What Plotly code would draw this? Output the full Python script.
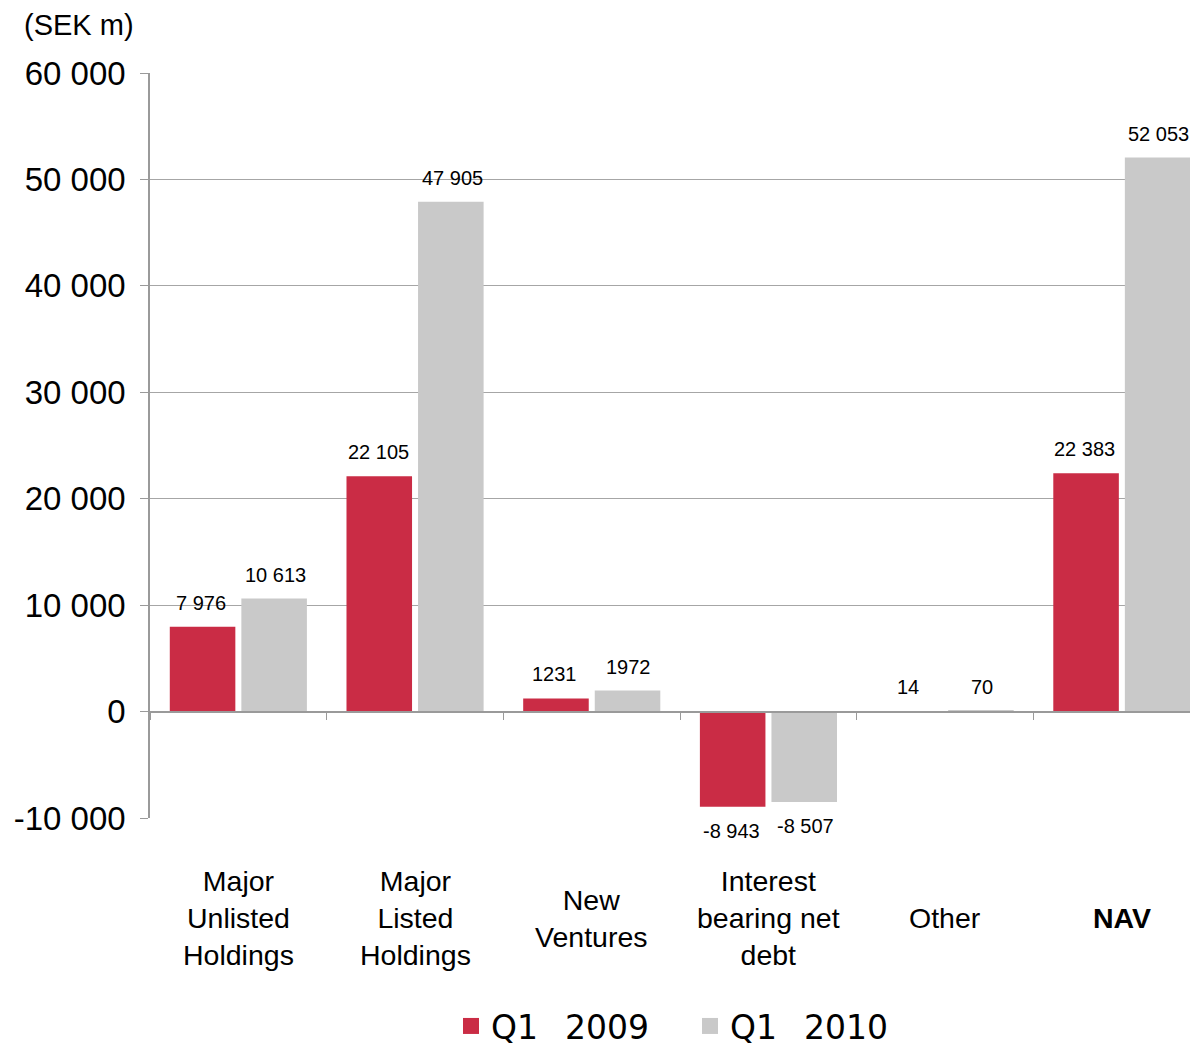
import plotly.graph_objects as go

categories = ["Major<br>Unlisted<br>Holdings", "Major<br>Listed<br>Holdings", "New<br>Ventures",
              "Interest<br>bearing net<br>debt", "Other", "<b>NAV</b>"]
q1_2009 = [7976, 22105, 1231, -8943, 14, 22383]
q1_2010 = [10613, 47905, 1972, -8507, 70, 52053]
labels_2009 = ["7 976", "22 105", "1231", "-8 943", "14", "22 383"]
labels_2010 = ["10 613", "47 905", "1972", "-8 507", "70", "52 053"]
series_names = ["Q1\u2002 2009", "Q1\u2002 2010"]
y_ticks = [-10000, 0, 10000, 20000, 30000, 40000, 50000, 60000]
y_ticktext = ["-10 000", "0", "10 000", "20 000", "30 000", "40 000", "50 000", "60 000"]

RED = "#CA2C45"
GRAY = "#C9C9C9"
FONT = "Liberation Sans, Arial, sans-serif"

# page has an 8px body margin, so the figure is drawn 8px right/down
W, H = 1190, 1041
L, T, B = 142, 65, 231
PW, PH = W - L, H - T - B

x_idx = list(range(len(categories)))

fig = go.Figure()
fig.add_trace(go.Bar(x=x_idx, y=q1_2009, name=series_names[0], showlegend=False,
                     marker=dict(color=RED, line=dict(width=0))))
fig.add_trace(go.Bar(x=x_idx, y=q1_2010, name=series_names[1], showlegend=False,
                     marker=dict(color=GRAY, line=dict(width=0))))
# legend entries with larger square swatches
for nm, col in zip(series_names, [RED, GRAY]):
    fig.add_trace(go.Scatter(x=[None], y=[None], mode="markers", name=nm,
                             marker=dict(symbol="square", size=20, color=col)))

ann = []
for vals, labs, shift in ((q1_2009, labels_2009, -37), (q1_2010, labels_2010, 37)):
    for i, (v, t) in enumerate(zip(vals, labs)):
        pos = v >= 0
        ann.append(dict(x=i, y=v, xref="x", yref="y", text=t, showarrow=False,
                        xshift=shift, yshift=11 if pos else -11,
                        yanchor="bottom" if pos else "top",
                        font=dict(family=FONT, size=20, color="#000")))
for i, c in enumerate(categories):
    ann.append(dict(x=i, y=-100 / PH, xref="x", yref="paper", text=c, showarrow=False,
                    yanchor="middle", align="center",
                    font=dict(family=FONT, size=28.5, color="#000")))
ann.append(dict(xref="paper", yref="paper", x=(22 - 150) / PW, y=1 + 48 / PH,
                text="(SEK m)", showarrow=False, xanchor="left", yanchor="middle",
                font=dict(family=FONT, size=29, color="#000")))

fig.update_layout(
    annotations=ann,
    width=W, height=H,
    margin=dict(l=L, r=0, t=T, b=B),
    paper_bgcolor="white", plot_bgcolor="white",
    barmode="group", bargap=0.19, bargroupgap=0.084,
    showlegend=True,
    legend=dict(orientation="h", x=0.5 + 16 / PW, xanchor="center",
                yref="container", y=23 / H, yanchor="middle",
                font=dict(family="DejaVu Sans, sans-serif", size=33, color="#000"),
                itemwidth=30, traceorder="normal", itemsizing="trace",
                entrywidth=194, entrywidthmode="pixels"),
    xaxis=dict(range=[-0.5, 5.431], showticklabels=False, showgrid=False,
               showline=True, linecolor="#9A9A9A", linewidth=1.5,
               anchor="free", position=1/7, ticks="outside", ticklen=8,
               tickcolor="#9A9A9A", tickvals=[v + 0.5 for v in x_idx[:-1]] + [-0.5],
               zeroline=False, automargin=False),
    yaxis=dict(range=[-10000, 60000], tickvals=y_ticks, ticktext=y_ticktext,
               showgrid=True, gridcolor="#A6A6A6", gridwidth=1,
               showline=True, linecolor="#9A9A9A", linewidth=1.5,
               ticks="outside", ticklen=8, tickcolor="#9A9A9A",
               ticklabelstandoff=8, zeroline=False, automargin=False,
               tickfont=dict(family=FONT, size=33, color="#000")),
)

fig.write_html("out.html")
